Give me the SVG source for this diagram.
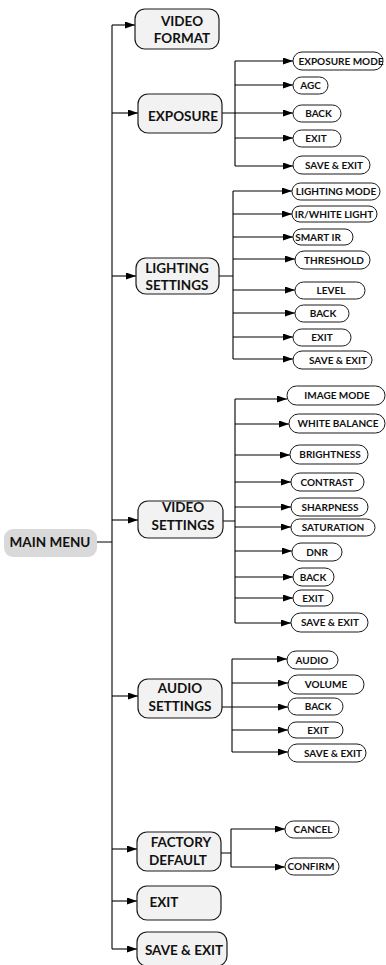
<svg xmlns="http://www.w3.org/2000/svg" width="386" height="965" viewBox="0 0 386 965">
<style>
.bg{fill:#fff}
.mm{fill:#d9d9d9;stroke:none}
.l1{fill:#f2f2f2;stroke:#1a1a1a;stroke-width:1.2}
.sb{fill:#fff;stroke:#1a1a1a;stroke-width:1}
.t1{font-family:Lato,Carlito,"Liberation Sans",sans-serif;font-weight:bold;font-size:13.5px;fill:#111;text-anchor:middle}
.t2{font-family:Lato,Carlito,"Liberation Sans",sans-serif;font-weight:bold;font-size:10px;fill:#111;text-anchor:middle}
.ln{fill:none;stroke:#000;stroke-width:1.1}
.ar{fill:none;stroke:#000;stroke-width:1.1;marker-end:url(#ah)}
</style>
<defs>
<marker id="ah" markerUnits="userSpaceOnUse" markerWidth="10" markerHeight="7" refX="10" refY="3.5" orient="auto">
<path d="M0,0 L10,3.5 L0,7 Z" fill="#000"/>
</marker>
</defs>
<rect class="bg" width="386" height="965"/>
<g id="connectors">
<path class="ln" d="M112,25 V949 M97,542 H112"/>
<path class="ar" d="M112,25 H135"/>
<path class="ar" d="M112,113 H138"/>
<path class="ar" d="M112,276 H136"/>
<path class="ar" d="M112,520 H138"/>
<path class="ar" d="M112,696 H138"/>
<path class="ar" d="M112,849 H137"/>
<path class="ar" d="M112,901 H137"/>
<path class="ar" d="M112,949 H137"/>
<path class="ln" d="M222,113 H235 M235,61 V166"/>
<path class="ar" d="M235,61 H293"/>
<path class="ar" d="M235,85 H293"/>
<path class="ar" d="M235,113 H293"/>
<path class="ar" d="M235,138 H293"/>
<path class="ar" d="M235,166 H293"/>
<path class="ln" d="M219,276 H233 M233,191 V359"/>
<path class="ar" d="M233,191 H292"/>
<path class="ar" d="M233,214 H292"/>
<path class="ar" d="M233,237 H293"/>
<path class="ar" d="M233,259 H295"/>
<path class="ar" d="M233,290 H295"/>
<path class="ar" d="M233,313 H295"/>
<path class="ar" d="M233,337 H293"/>
<path class="ar" d="M233,359 H293"/>
<path class="ln" d="M223,521 H235 M235,399 V623"/>
<path class="ar" d="M235,399 H287"/>
<path class="ar" d="M235,424 H289"/>
<path class="ar" d="M235,455 H290"/>
<path class="ar" d="M235,482 H291"/>
<path class="ar" d="M235,507 H291"/>
<path class="ar" d="M235,527 H291"/>
<path class="ar" d="M235,551 H292"/>
<path class="ar" d="M235,577 H293"/>
<path class="ar" d="M235,598 H293"/>
<path class="ar" d="M235,623 H291"/>
<path class="ln" d="M222,707 H232 M232,659 V752"/>
<path class="ar" d="M232,659 H287"/>
<path class="ar" d="M232,683 H288"/>
<path class="ar" d="M232,707 H288"/>
<path class="ar" d="M232,730 H288"/>
<path class="ar" d="M232,752 H288"/>
<path class="ln" d="M221,853 H231 M231,829 V867"/>
<path class="ar" d="M231,829 H285"/>
<path class="ar" d="M231,867 H285"/>
</g>
<g id="main-menu"><rect class="mm" x="4" y="529" width="93" height="28" rx="9"/><text class="t1" x="50" y="547">MAIN MENU</text></g>
<g id="video-format"><rect class="l1" x="135" y="9" width="84" height="40" rx="10"/><text class="t1" x="182" y="26">VIDEO</text><text class="t1" x="182" y="43">FORMAT</text></g>
<g id="exposure"><rect class="l1" x="138" y="94" width="84" height="39" rx="10"/><text class="t1" x="183" y="121">EXPOSURE</text></g>
<g id="lighting-settings"><rect class="l1" x="136" y="258" width="83" height="36" rx="10"/><text class="t1" x="177" y="273">LIGHTING</text><text class="t1" x="177" y="290">SETTINGS</text></g>
<g id="video-settings"><rect class="l1" x="138" y="501" width="85" height="37" rx="10"/><text class="t1" x="183" y="512">VIDEO</text><text class="t1" x="183" y="530">SETTINGS</text></g>
<g id="audio-settings"><rect class="l1" x="138" y="679" width="84" height="39" rx="10"/><text class="t1" x="180" y="693">AUDIO</text><text class="t1" x="180" y="711">SETTINGS</text></g>
<g id="factory-default"><rect class="l1" x="137" y="832" width="84" height="39" rx="10"/><text class="t1" x="181" y="847">FACTORY</text><text class="t1" x="178" y="865">DEFAULT</text></g>
<g id="exit"><rect class="l1" x="137" y="886" width="84" height="34" rx="10"/><text class="t1" x="164" y="907">EXIT</text></g>
<g id="save-exit"><rect class="l1" x="137" y="932" width="90" height="34" rx="10"/><text class="t1" x="184" y="955">SAVE &amp; EXIT</text></g>

<g id="exp-mode"><rect class="sb" x="293" y="52" width="90" height="18" rx="9"/><text class="t2" x="341" y="64.5">EXPOSURE MODE</text></g>
<g id="exp-agc"><rect class="sb" x="293" y="77" width="35" height="17" rx="8.5"/><text class="t2" x="310.5" y="89">AGC</text></g>
<g id="exp-back"><rect class="sb" x="293" y="105" width="48" height="17" rx="8.5"/><text class="t2" x="318.5" y="117">BACK</text></g>
<g id="exp-exit"><rect class="sb" x="293" y="130" width="48" height="17" rx="8.5"/><text class="t2" x="316" y="142">EXIT</text></g>
<g id="exp-save"><rect class="sb" x="293" y="156" width="77" height="18" rx="9"/><text class="t2" x="334" y="168.5">SAVE &amp; EXIT</text></g>

<g id="lt-mode"><rect class="sb" x="292" y="183" width="88" height="17" rx="8.5"/><text class="t2" x="336" y="195">LIGHTING MODE</text></g>
<g id="lt-ir"><rect class="sb" x="292" y="206" width="85" height="16" rx="8"/><text class="t2" x="334" y="217.5">IR/WHITE LIGHT</text></g>
<g id="lt-smart"><rect class="sb" x="293" y="229" width="60" height="16" rx="8"/><text class="t2" x="318" y="240.5">SMART IR</text></g>
<g id="lt-thr"><rect class="sb" x="295" y="251" width="75" height="18" rx="9"/><text class="t2" x="334" y="263.5">THRESHOLD</text></g>
<g id="lt-level"><rect class="sb" x="295" y="282" width="70" height="17" rx="8.5"/><text class="t2" x="331" y="294">LEVEL</text></g>
<g id="lt-back"><rect class="sb" x="295" y="305" width="54" height="17" rx="8.5"/><text class="t2" x="323" y="317">BACK</text></g>
<g id="lt-exit"><rect class="sb" x="293" y="329" width="58" height="17" rx="8.5"/><text class="t2" x="322" y="341">EXIT</text></g>
<g id="lt-save"><rect class="sb" x="293" y="351" width="79" height="18" rx="9"/><text class="t2" x="338" y="363.5">SAVE &amp; EXIT</text></g>

<g id="vs-image"><rect class="sb" x="287" y="386" width="98" height="19" rx="9.5"/><text class="t2" x="337" y="399">IMAGE MODE</text></g>
<g id="vs-wb"><rect class="sb" x="289" y="414" width="96" height="19" rx="9.5"/><text class="t2" x="338" y="427">WHITE BALANCE</text></g>
<g id="vs-bright"><rect class="sb" x="290" y="445" width="78" height="19" rx="9.5"/><text class="t2" x="330" y="458">BRIGHTNESS</text></g>
<g id="vs-contrast"><rect class="sb" x="291" y="473" width="73" height="18" rx="9"/><text class="t2" x="327" y="485.5">CONTRAST</text></g>
<g id="vs-sharp"><rect class="sb" x="291" y="498" width="77" height="18" rx="9"/><text class="t2" x="330" y="510.5">SHARPNESS</text></g>
<g id="vs-sat"><rect class="sb" x="291" y="519" width="84" height="17" rx="8.5"/><text class="t2" x="333" y="531">SATURATION</text></g>
<g id="vs-dnr"><rect class="sb" x="292" y="543" width="50" height="18" rx="9"/><text class="t2" x="317" y="555.5">DNR</text></g>
<g id="vs-back"><rect class="sb" x="293" y="568" width="41" height="18" rx="9"/><text class="t2" x="313" y="580.5">BACK</text></g>
<g id="vs-exit"><rect class="sb" x="293" y="590" width="40" height="16" rx="8"/><text class="t2" x="313" y="601.5">EXIT</text></g>
<g id="vs-save"><rect class="sb" x="291" y="613" width="77" height="19" rx="9.5"/><text class="t2" x="330" y="626">SAVE &amp; EXIT</text></g>

<g id="au-audio"><rect class="sb" x="287" y="651" width="51" height="18" rx="9"/><text class="t2" x="312" y="663.5">AUDIO</text></g>
<g id="au-vol"><rect class="sb" x="288" y="675" width="76" height="19" rx="9.5"/><text class="t2" x="326" y="688">VOLUME</text></g>
<g id="au-back"><rect class="sb" x="288" y="698" width="55" height="17" rx="8.5"/><text class="t2" x="318" y="710">BACK</text></g>
<g id="au-exit"><rect class="sb" x="288" y="722" width="55" height="16" rx="8"/><text class="t2" x="318" y="733.5">EXIT</text></g>
<g id="au-save"><rect class="sb" x="288" y="744" width="78" height="18" rx="9"/><text class="t2" x="333" y="756.5">SAVE &amp; EXIT</text></g>

<g id="fd-cancel"><rect class="sb" x="285" y="821" width="54" height="17" rx="8.5"/><text class="t2" x="313" y="833">CANCEL</text></g>
<g id="fd-confirm"><rect class="sb" x="285" y="858" width="54" height="17" rx="8.5"/><text class="t2" x="311" y="870">CONFIRM</text></g>
</svg>
